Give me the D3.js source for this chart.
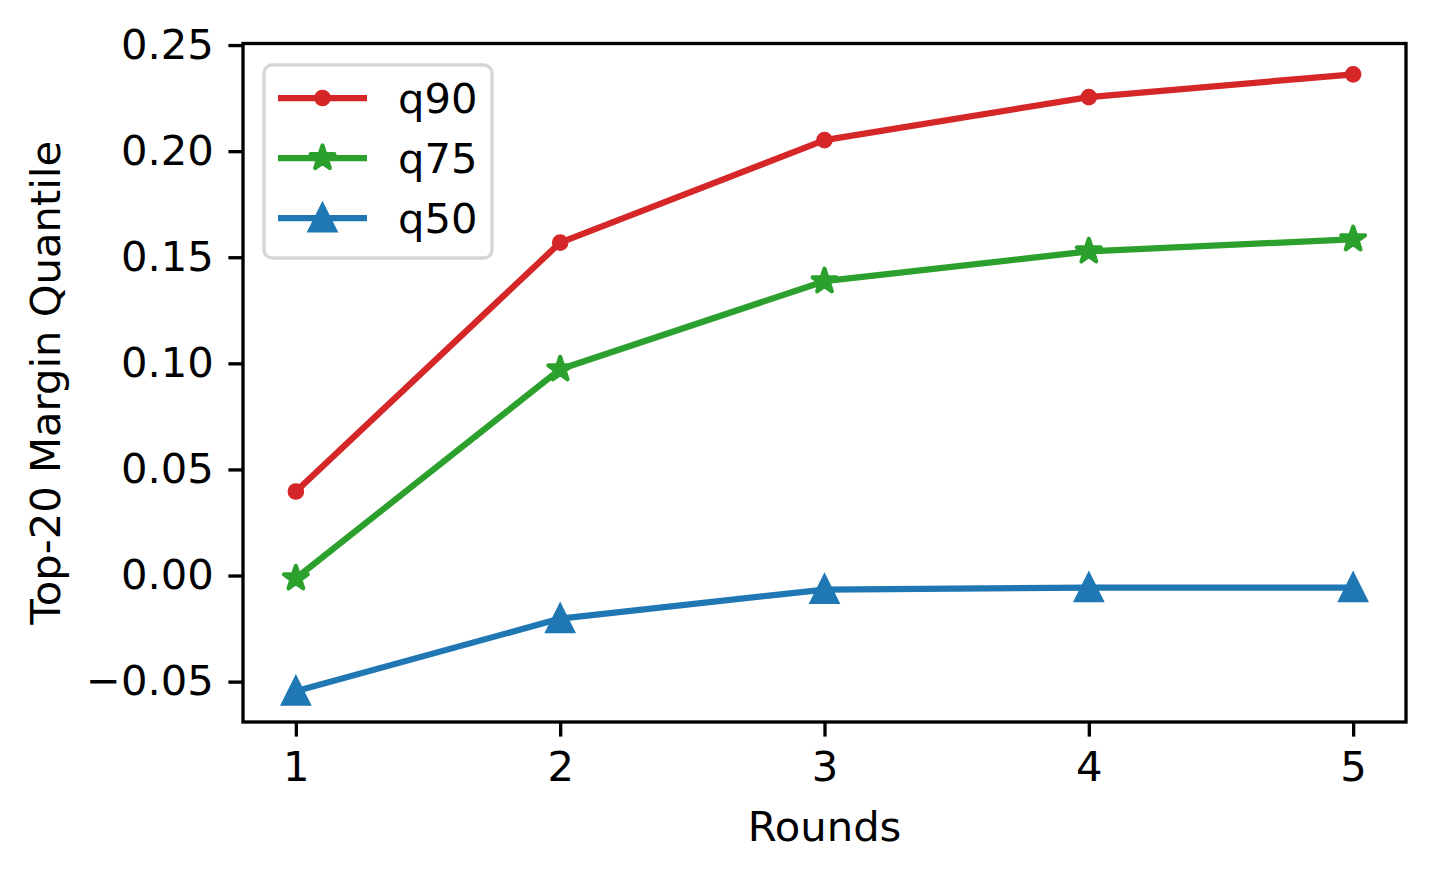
<!DOCTYPE html>
<html><head><meta charset="utf-8">
<script src="https://cdn.jsdelivr.net/npm/d3@7"></script>
<style>body{margin:0;background:#fff;} text{font-family:"DejaVu Sans",sans-serif;}</style>
</head><body>
<svg id="chart" width="1435" height="879"></svg>
<script>
const rounds = [1, 2, 3, 4, 5];
const q90 = [0.0396, 0.1569, 0.2052, 0.2255, 0.2362];
const q75 = [-0.0013, 0.0972, 0.1387, 0.1528, 0.1585];
const q50 = [-0.0545, -0.0203, -0.0066, -0.0057, -0.0057];
const seriesNames = ["q90", "q75", "q50"];
const seriesColors = ["#d62728", "#2ca02c", "#1f77b4"];
const seriesMarkers = ["dot", "star", "triangle"];
const xTicks = [1, 2, 3, 4, 5];
const yTicks = [-0.05, 0, 0.05, 0.10, 0.15, 0.20, 0.25];

const svg = d3.select("#chart");
const L = 243, R = 1406, T = 43.5, B = 722;
const FS = 41.7;

const allVals = q90.concat(q75, q50);
const ymin = d3.min(allVals), ymax = d3.max(allVals), pad = (ymax - ymin) * 0.05;
const x = d3.scaleLinear().domain([0.8, 5.2]).range([L, R]);
const y = d3.scaleLinear().domain([ymin - pad, ymax + pad]).range([B, T]);

const series = [q90, q75, q50];

function starPath(r) {
  const pts = [];
  const ri = r * 0.381966;
  for (let i = 0; i < 10; i++) {
    const a = -Math.PI / 2 + i * Math.PI / 5;
    const rr = i % 2 === 0 ? r : ri;
    pts.push([rr * Math.cos(a), rr * Math.sin(a)]);
  }
  return "M" + pts.map(p => p.join(",")).join("L") + "Z";
}
function drawMarker(g, type, cx, cy, color) {
  if (type === "dot") {
    g.append("circle").attr("cx", cx).attr("cy", cy).attr("r", 6.25)
      .attr("fill", color).attr("stroke", color).attr("stroke-width", 4.17);
  } else if (type === "star") {
    g.append("path").attr("d", starPath(12.5)).attr("transform", `translate(${cx},${cy})`)
      .attr("fill", color).attr("stroke", color).attr("stroke-width", 4.17).attr("stroke-linejoin", "round");
  } else {
    const s = 12.5;
    g.append("path").attr("d", `M0,${-s}L${-s},${s}L${s},${s}Z`).attr("transform", `translate(${cx},${cy})`)
      .attr("fill", color).attr("stroke", color).attr("stroke-width", 4.17).attr("stroke-linejoin", "miter");
  }
}

const plot = svg.append("g");

series.forEach((vals, i) => {
  const line = d3.line().x((d, j) => x(rounds[j])).y(d => y(d));
  plot.append("path").datum(vals).attr("d", line).attr("fill", "none")
    .attr("stroke", seriesColors[i]).attr("stroke-width", 6.25).attr("stroke-linejoin", "round").attr("stroke-linecap", "square");
  vals.forEach((v, j) => drawMarker(plot, seriesMarkers[i], x(rounds[j]), y(v), seriesColors[i]));
});

// axes
const xAxis = d3.axisBottom(x).tickValues(xTicks).tickFormat(d3.format("d")).tickSize(14.6).tickPadding(14.6);
const yAxis = d3.axisLeft(y).tickValues(yTicks).tickFormat(d => d3.format(".2f")(d).replace("-", "\u2212")).tickSize(14.6).tickPadding(14.6);
const gx = svg.append("g").attr("transform", `translate(0,${B})`).call(xAxis);
const gy = svg.append("g").attr("transform", `translate(${L},0)`).call(yAxis);
[gx, gy].forEach(g => {
  g.select(".domain").remove();
  g.selectAll(".tick line").attr("stroke", "#000").attr("stroke-width", 3.33);
  g.selectAll(".tick text").attr("font-size", FS).attr("fill", "#000").attr("font-family", "DejaVu Sans");
});
svg.append("rect").attr("x", L).attr("y", T).attr("width", R - L).attr("height", B - T)
  .attr("fill", "none").attr("stroke", "#000").attr("stroke-width", 3.33);

// labels
svg.append("text").attr("x", (L + R) / 2).attr("y", 841).attr("text-anchor", "middle")
  .attr("font-size", FS).text("Rounds");
svg.append("text").attr("transform", `translate(60,${(T + B) / 2}) rotate(-90)`).attr("text-anchor", "middle")
  .attr("font-size", FS).text("Top-20 Margin Quantile");

// legend
const lg = svg.append("g");
lg.append("rect").attr("x", 264).attr("y", 65).attr("width", 228).attr("height", 193).attr("rx", 8)
  .attr("fill", "#fff").attr("fill-opacity", 0.8).attr("stroke", "#d6d6d6").attr("stroke-width", 3.33);
const rowY = [98, 158, 218];
seriesNames.forEach((n, i) => {
  lg.append("line").attr("x1", 278).attr("x2", 367).attr("y1", rowY[i]).attr("y2", rowY[i])
    .attr("stroke", seriesColors[i]).attr("stroke-width", 6.25);
  drawMarker(lg, seriesMarkers[i], 322.5, rowY[i], seriesColors[i]);
  lg.append("text").attr("x", 398).attr("y", rowY[i]).attr("dy", "0.36em").attr("font-size", FS).text(n);
});
</script>
</body></html>
